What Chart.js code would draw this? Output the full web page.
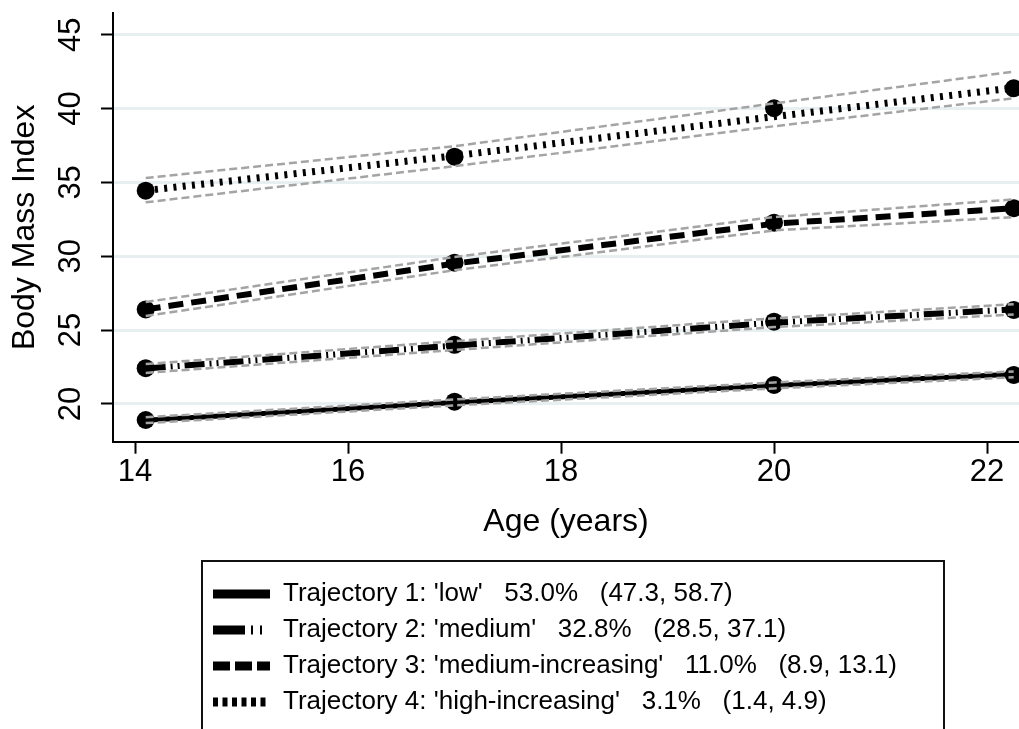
<!DOCTYPE html>
<html>
<head>
<meta charset="utf-8">
<script src="https://cdn.jsdelivr.net/npm/chart.js@4.4.1/dist/chart.umd.min.js"></script>
<style>
  html, body { margin: 0; padding: 0; background: #ffffff; }
  #wrap { width: 1019px; height: 729px; }
</style>
</head>
<body>
<div id="wrap"><canvas id="c" width="1019" height="729"></canvas></div>
<script>
// ---------------- data ----------------
const ages = [14.1, 17, 20, 22.25];
const xTickValues = [14, 16, 18, 20, 22];
const yTickValues = [20, 25, 30, 35, 40, 45];

const legendTexts = [
  "Trajectory 1: 'low'   53.0%   (47.3, 58.7)",
  "Trajectory 2: 'medium'   32.8%   (28.5, 37.1)",
  "Trajectory 3: 'medium-increasing'   11.0%   (8.9, 13.1)",
  "Trajectory 4: 'high-increasing'   3.1%   (1.4, 4.9)"
];

// fitted trajectories
const fitLow      = [18.9, 20.1, 21.25, 22.0];
const fitMedium   = [22.4, 23.95, 25.5, 26.4];
const fitMedInc   = [26.4, 29.5, 32.2, 33.25];
const fitHighInc  = [34.45, 36.8, 39.45, 41.4];

// observed means
const obsLow      = [18.91, 20.15, 21.28, 21.96];
const obsMedium   = [22.42, 24.0, 25.57, 26.36];
const obsMedInc   = [26.4, 29.56, 32.27, 33.25];
const obsHighInc  = [34.44, 36.74, 40.02, 41.37];

// 95% CI bounds
const upLow       = [19.1, 20.3, 21.45, 22.2];
const loLow       = [18.7, 19.9, 21.05, 21.8];
const upMedium    = [22.7, 24.25, 25.8, 26.75];
const loMedium    = [22.1, 23.65, 25.2, 26.05];
const upMedInc    = [26.9, 29.95, 32.65, 33.85];
const loMedInc    = [25.95, 29.05, 31.75, 32.65];
const upHighInc   = [35.3, 37.45, 40.35, 42.5];
const loHighInc   = [33.65, 36.1, 38.8, 40.7];

// ---------------- styles ----------------
const FONT = "'Liberation Sans', Arial, sans-serif";
const mainStyles = [
  { width: 5, dash: [] },
  { width: 6, dash: [20, 5, 2, 5, 2, 5] },
  { width: 6, dash: [15, 8] },
  { width: 7, dash: [3, 6.3] }
];
const legendDashes = [
  [],
  [32, 6, 2, 7, 2, 100],
  [17, 5],
  [5, 4.5]
];

const fits = [fitLow, fitMedium, fitMedInc, fitHighInc];
const obs = [obsLow, obsMedium, obsMedInc, obsHighInc];
const ups = [upLow, upMedium, upMedInc, upHighInc];
const los = [loLow, loMedium, loMedInc, loHighInc];

const toXY = arr => arr.map((v, i) => ({ x: ages[i], y: v }));

const datasets = [];
// CI lines (drawn on top)
for (let t = 0; t < 4; t++) {
  [ups[t], los[t]].forEach(arr => {
    datasets.push({
      data: toXY(arr),
      borderColor: '#a4a4a4',
      borderWidth: 2.5,
      borderDash: [8, 4],
      pointRadius: 0,
      pointHoverRadius: 0,
      fill: false,
      tension: 0
    });
  });
}
// fitted lines
for (let t = 0; t < 4; t++) {
  datasets.push({
    label: legendTexts[t],
    data: toXY(fits[t]),
    borderColor: '#000000',
    borderWidth: mainStyles[t].width,
    borderDash: mainStyles[t].dash,
    pointRadius: 0,
    pointHoverRadius: 0,
    fill: false,
    tension: 0
  });
}
// observed points
for (let t = 0; t < 4; t++) {
  datasets.push({
    data: toXY(obs[t]),
    showLine: false,
    pointRadius: 9,
    pointHoverRadius: 9,
    pointBackgroundColor: '#000000',
    pointBorderColor: '#000000',
    pointBorderWidth: 0
  });
}

const legendFrame = {
  id: 'legendFrame',
  afterLayout(chart) {
    const lg = chart.legend;
    if (lg) { lg.left = 203; }
  },
  afterDraw(chart) {
    const lg = chart.legend;
    const ctx = chart.ctx;
    ctx.save();
    ctx.lineWidth = 2;
    ctx.strokeStyle = '#111111';
    ctx.strokeRect(lg.left - 1, lg.top - 10, 742, lg.height + 60);
    ctx.restore();
  }
};

new Chart(document.getElementById('c'), {
  type: 'line',
  data: { datasets },
  plugins: [legendFrame],
  options: {
    responsive: false,
    animation: false,
    events: [],
    layout: { autoPadding: false, padding: { top: 13, bottom: 4, left: 0, right: 0 } },
    plugins: {
      tooltip: { enabled: false },
      legend: {
        display: true,
        position: 'bottom',
        align: 'start',
        labels: {
          usePointStyle: true,
          pointStyleWidth: 57,
          boxHeight: 26,
          padding: 10,
          color: '#000000',
          font: { family: FONT, size: 26 },
          generateLabels: () => legendTexts.map((txt, i) => ({
            text: txt,
            fontColor: '#000000',
            fillStyle: '#000000',
            strokeStyle: '#000000',
            lineWidth: 9,
            lineDash: legendDashes[i],
            lineCap: 'butt',
            pointStyle: 'line',
            hidden: false,
            datasetIndex: 8 + i
          }))
        }
      }
    },
    scales: {
      x: {
        type: 'linear',
        min: 13.793,
        max: 22.3,
        afterBuildTicks: s => { s.ticks = xTickValues.map(v => ({ value: v })); },
        afterFit: s => { s.height = 129.3; s.paddingLeft = 0; s.paddingRight = 0; },
        grid: { drawOnChartArea: false, drawTicks: true, tickLength: 12, tickWidth: 2, tickColor: '#000000' },
        border: { display: true, color: '#000000', width: 2 },
        ticks: { font: { family: FONT, size: 31 }, color: '#000000', padding: 0, maxRotation: 0, autoSkip: false },
        title: { display: true, text: 'Age (years)', color: '#000000', font: { family: FONT, size: 32 }, padding: { top: 12, bottom: 30 } }
      },
      y: {
        type: 'linear',
        min: 17.44,
        max: 46.47,
        afterBuildTicks: s => { s.ticks = yTickValues.map(v => ({ value: v })); },
        afterFit: s => { s.width = 113; s.paddingTop = 0; s.paddingBottom = 0; },
        grid: { color: '#e8eff1', lineWidth: 3, drawTicks: true, tickLength: 12, tickWidth: 2, tickColor: '#000000' },
        border: { display: true, color: '#000000', width: 2 },
        ticks: { font: { family: FONT, size: 31 }, color: '#000000', padding: 12, minRotation: 90, maxRotation: 90, crossAlign: 'center', autoSkip: false },
        title: { display: true, text: 'Body Mass Index', color: '#000000', font: { family: FONT, size: 32 }, padding: { top: 6, bottom: 0 } }
      }
    }
  }
});
</script>
</body>
</html>
